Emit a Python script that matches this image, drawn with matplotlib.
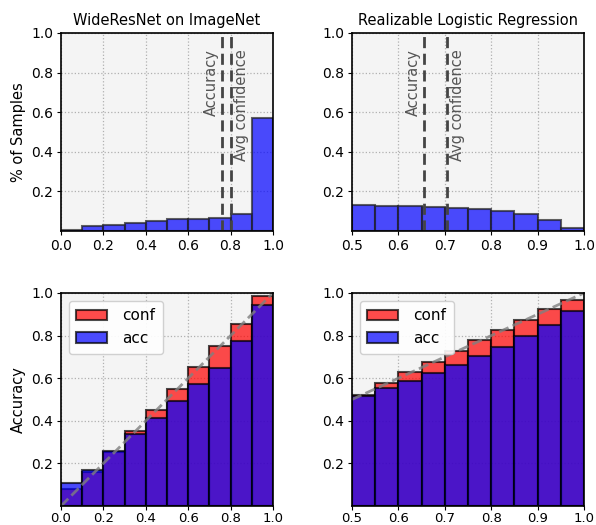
import numpy as np
import matplotlib
matplotlib.use("Agg")
import matplotlib.pyplot as plt

# top row: share of samples per confidence bin
titles = ["WideResNet on ImageNet", "Realizable Logistic Regression"]
bins_a = np.arange(0.0, 1.0, 0.1)
bins_b = np.arange(0.5, 1.0, 0.05)
hist_a = [0.007, 0.024, 0.032, 0.042, 0.050, 0.062, 0.062, 0.066, 0.088, 0.572]
hist_b = [0.130, 0.128, 0.126, 0.123, 0.118, 0.111, 0.101, 0.084, 0.057, 0.017]
acc_line = [0.76, 0.655]
conf_line = [0.80, 0.704]

# bottom row: reliability diagrams
conf_a = [0.078, 0.160, 0.253, 0.352, 0.453, 0.550, 0.652, 0.753, 0.855, 0.984]
acc_a = [0.109, 0.167, 0.258, 0.339, 0.411, 0.495, 0.575, 0.650, 0.773, 0.945]
conf_b = [0.523, 0.577, 0.627, 0.677, 0.727, 0.777, 0.827, 0.875, 0.925, 0.966]
acc_b = [0.516, 0.552, 0.589, 0.625, 0.664, 0.703, 0.747, 0.797, 0.852, 0.914]

W, H = 596, 525
fig = plt.figure(figsize=(W / 100, H / 100), dpi=100)

def box(x0, y0, x1, y1):
    # pixel box (top-left origin) -> figure fraction
    return [x0 / W, 1 - y1 / H, (x1 - x0) / W, (y1 - y0) / H]

axes = [[fig.add_axes(box(61, 33, 273, 231)), fig.add_axes(box(352, 33, 584, 231))],
        [fig.add_axes(box(61, 293, 273, 506)), fig.add_axes(box(352, 293, 584, 506))]]

def style(ax, xlo, xticks):
    ax.set_facecolor('#f4f4f4')
    ax.grid(True, linestyle=':', color='#b0b0b0', linewidth=0.9)
    ax.set_axisbelow(True)
    ax.set_xlim(xlo, 1.0)
    ax.set_ylim(0, 1.0)
    ax.set_xticks(xticks)
    ax.set_yticks([0.2, 0.4, 0.6, 0.8, 1.0])
    ax.tick_params(direction='out', length=3, pad=2.5, labelsize=10)
    for s in ax.spines.values():
        s.set_linewidth(1.2)

setups = [(bins_a, 0.1, hist_a, conf_a, acc_a, 0.0, np.arange(0, 1.01, 0.2)),
          (bins_b, 0.05, hist_b, conf_b, acc_b, 0.5, np.arange(0.5, 1.01, 0.1))]

for i, (edges, w, hist, conf, acc, xlo, xt) in enumerate(setups):
    span = 1 - xlo
    ax = axes[0][i]
    style(ax, xlo, xt)
    ax.bar(edges, hist, width=w, align='edge', color='blue', alpha=0.7,
           edgecolor='#222222', linewidth=1.5)
    ax.axvline(acc_line[i], color='#444444', linestyle='--', linewidth=2, dashes=(4, 2))
    ax.axvline(conf_line[i], color='#444444', linestyle='--', linewidth=2, dashes=(4, 2))
    ax.text(acc_line[i] - 0.015 * span, 0.92, 'Accuracy', rotation=90,
            ha='right', va='top', color='#555555', fontsize=10.5)
    ax.text(conf_line[i] + 0.015 * span, 0.92, 'Avg confidence', rotation=90,
            ha='left', va='top', color='#555555', fontsize=10.5)
    ax.set_title(titles[i], fontsize=10.5, pad=6)

    ax = axes[1][i]
    style(ax, xlo, xt)
    ax.tick_params(axis='x', pad=1, labelsize=9.5)
    ax.bar(edges, conf, width=w, align='edge', color='red', alpha=0.7,
           edgecolor='black', linewidth=1.5, label='conf')
    ax.bar(edges, acc, width=w, align='edge', color='blue', alpha=0.7,
           edgecolor='black', linewidth=1.5, label='acc')
    ax.plot([xlo, 1], [xlo, 1], linestyle='--', color='gray', linewidth=2, alpha=0.8)
    ax.legend(loc='upper left', fontsize=11, handlelength=2.0, borderpad=0.5,
              labelspacing=0.5, framealpha=0.9, handletextpad=1.0)

axes[0][0].set_ylabel('% of Samples', fontsize=10.5)
axes[1][0].set_ylabel('Accuracy', fontsize=10.5)

fig.savefig('out.png', dpi=100)
